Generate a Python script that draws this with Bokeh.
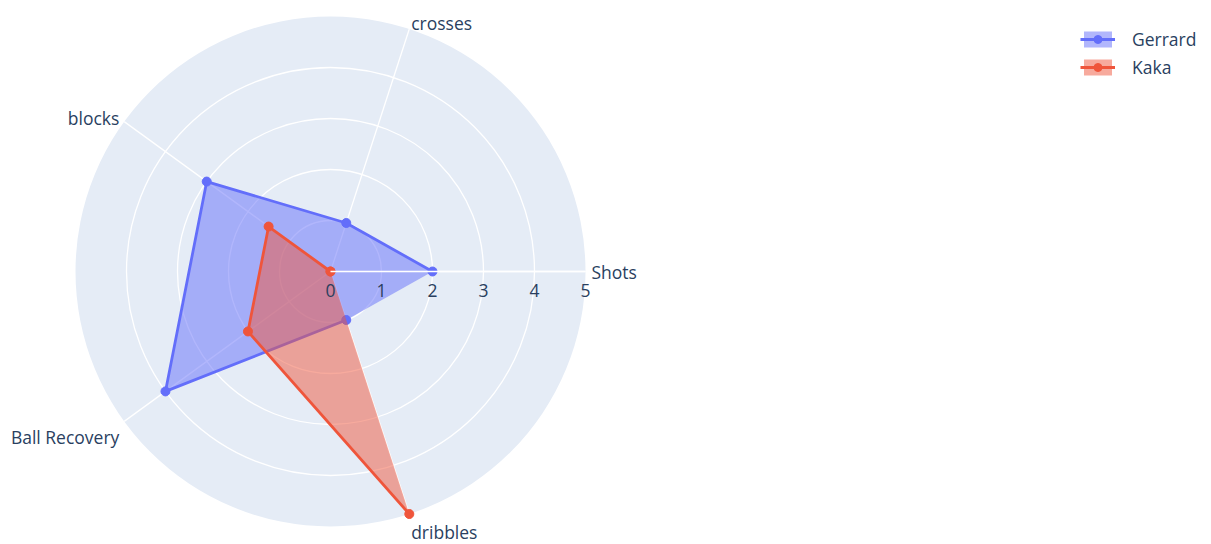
import numpy as np
from bokeh.plotting import figure
from bokeh.models import Range1d, Legend, LegendItem
from bokeh.embed import file_html
from bokeh.resources import INLINE
from bokeh.core.properties import value

# ---- data ----
categories = ["Shots", "crosses", "blocks", "Ball Recovery", "dribbles"]
gerrard = [2, 1, 3, 4, 1]
kaka = [0, 0, 1.5, 2, 5]
radial_ticks = [0, 1, 2, 3, 4, 5]
grid_radii = [1, 2, 3, 4]
r_max = 5

# ---- layout ----
W, H = 1211, 544
PX = 51.0          # pixels per radial unit
cx_px, cy_px = 330, 271
FONT = value("Open Sans")
TXT = "#2a3f5f"
FS = "17.5px"

p = figure(width=W, height=H, output_backend="svg", toolbar_location=None,
           x_range=Range1d(-cx_px / PX, (W - cx_px) / PX),
           y_range=Range1d(-(H - cy_px) / PX, cy_px / PX),
           x_axis_location=None, y_axis_location=None,
           min_border=0, min_border_left=0, min_border_right=0,
           min_border_top=0, min_border_bottom=0)
p.grid.visible = False
p.outline_line_color = None
p.background_fill_color = "white"
p.border_fill_color = "white"

n = len(categories)
theta = np.arange(n) * 2 * np.pi / n

# background disk
p.circle(x=[0], y=[0], radius=r_max, fill_color="#E5ECF6", line_color=None)
# radial gridlines
p.circle(x=[0] * len(grid_radii), y=[0] * len(grid_radii), radius=grid_radii,
         fill_color=None, line_color="white", line_width=1.3)
# angular gridlines
p.segment(x0=[0] * n, y0=[0] * n, x1=list(r_max * np.cos(theta)), y1=list(r_max * np.sin(theta)),
          line_color="white", line_width=1.3)

def trace(vals, color):
    r = np.array(vals, dtype=float)
    xs = r * np.cos(theta)
    ys = r * np.sin(theta)
    pa = p.patch(list(xs), list(ys), fill_color=color, fill_alpha=0.5, line_color=None)
    ln = p.line(list(xs), list(ys), line_color=color, line_width=2.8)
    sc = p.scatter(list(xs), list(ys), size=9, fill_color=color, line_color=color)
    return [pa, ln, sc]

rg = trace(gerrard, "#636EFA")
rk = trace(kaka, "#EF553B")

# radial axis line (above traces)
p.segment(x0=[0], y0=[0], x1=[r_max], y1=[0], line_color="white", line_width=1.6)

# radial tick labels
p.text(x=radial_ticks, y=[-19 / PX] * len(radial_ticks), text=[str(t) for t in radial_ticks],
       text_align="center", text_baseline="middle", text_font=FONT,
       text_font_size=FS, text_color=TXT)

# category labels
pad = 6 / PX
for name, th in zip(categories, theta):
    c, s = np.cos(th), np.sin(th)
    align = "left" if c > 0.1 else ("right" if c < -0.1 else "center")
    base = "alphabetic" if s > 0.1 else ("top" if s < -0.1 else "middle")
    p.text(x=[r_max * c + pad * c], y=[r_max * s + pad * s], text=[name],
           text_align=align, text_baseline=base, text_font=FONT,
           text_font_size=FS, text_color=TXT)

legend = Legend(items=[LegendItem(label="Gerrard", renderers=rg),
                       LegendItem(label="Kaka", renderers=rk)],
                location=(1080, 465), padding=0, margin=0, spacing=4,
                glyph_height=20, label_height=20, glyph_width=35, label_standoff=17,
                label_text_font="Open Sans", label_text_font_size=FS,
                label_text_color=TXT, border_line_color=None,
                background_fill_alpha=0)
p.add_layout(legend)

open("out.html", "w").write(file_html(p, INLINE))
